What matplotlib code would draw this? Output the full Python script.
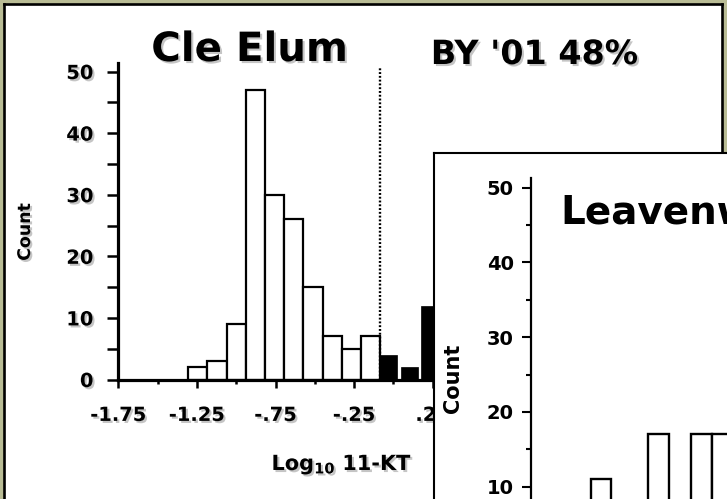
import numpy as np
import matplotlib
matplotlib.use("Agg")
import matplotlib.pyplot as plt
import matplotlib.patheffects as pe

# ---------------- data ----------------
# Cle Elum histogram (Log10 11-KT bins)
ce_bin_start = -1.305
ce_bin_width = 0.122
ce_white_counts = [2, 3, 9, 47, 30, 26, 15, 7, 5, 7]
ce_black_left = [-0.085, 0.046, 0.174]
ce_black_counts = [4, 2, 12]
ce_threshold = -0.085
ce_xticks = [-1.75, -1.25, -0.75, -0.25, 0.25, 0.75]
ce_xticklabels = ["-1.75", "-1.25", "-.75", "-.25", ".25", ".75"]
ce_xminor = [-1.5, -1.0, -0.5, 0.0, 0.5, 1.0]
yticks = [0, 10, 20, 30, 40, 50]
yminor = [5, 15, 25, 35, 45]

# Leavenworth histogram (visible part)
lv_left = [-1.393, -1.051, -0.795, -0.673]
lv_counts = [11, 17, 17, 17]
lv_width = 0.12

W, H = 727, 499
plt.rcParams['font.family'] = ['DejaVu Sans']
plt.rcParams['font.weight'] = 'bold'
plt.rcParams['mathtext.default'] = 'bf'

fig = plt.figure(figsize=(W / 100, H / 100), dpi=100, facecolor='#b9bc95')


def rect(l, t, r, b):
    return [l / W, 1 - b / H, (r - l) / W, (b - t) / H]


shadow = [pe.SimplePatchShadow(offset=(1.5, -1.5), shadow_rgbFace='0.5', alpha=0.45), pe.Normal()]

# ---- panel 1 frame ----
f1 = fig.add_axes(rect(4.3, 4.2, 722, 540))
f1.set_facecolor('white')
f1.set_xticks([]); f1.set_yticks([])
for s in f1.spines.values():
    s.set_linewidth(1.9); s.set_color('black')
f1.set_zorder(0)

# ---- panel 1 axes ----
px_per_unit = 157.2
x0_px, y0_px = 118.3, 379.5
ylim_top = 51.3
ppc1 = 6.16
xlim = (-1.75, 1.25)
ax1 = fig.add_axes(rect(x0_px, y0_px - ylim_top * ppc1,
                        x0_px + (xlim[1] - xlim[0]) * px_per_unit, y0_px))
ax1.set_zorder(1)
ax1.patch.set_alpha(0)
ax1.set_xlim(*xlim)
ax1.set_ylim(0, ylim_top)

ce_left = ce_bin_start + ce_bin_width * np.arange(len(ce_white_counts))
ax1.bar(ce_left, ce_white_counts, width=ce_bin_width, align='edge',
        facecolor='white', edgecolor='black', linewidth=1.6, zorder=2)
ax1.bar(ce_black_left, ce_black_counts, width=0.111, align='edge',
        facecolor='black', edgecolor='black', linewidth=0.5, zorder=2)
ax1.plot([ce_threshold, ce_threshold], [0, 50.5], color='black',
         linestyle=(0, (0.8, 0.8)), linewidth=1.7, zorder=3, clip_on=False)

for side in ['top', 'right']:
    ax1.spines[side].set_visible(False)
for side in ['left', 'bottom']:
    ax1.spines[side].set_linewidth(2.3)
ax1.set_yticks(yticks)
ax1.set_yticks(yminor, minor=True)
ax1.set_xticks(ce_xticks)
ax1.set_xticklabels(ce_xticklabels)
ax1.set_xticks(ce_xminor, minor=True)
ax1.tick_params(axis='y', which='both', direction='out', length=8, width=1.8,
                labelsize=14, pad=10)
ax1.tick_params(axis='x', which='major', direction='out', length=6, width=1.8,
                labelsize=14, pad=13)
ax1.tick_params(axis='x', which='minor', direction='out', length=3, width=1.8)
for lbl in ax1.get_xticklabels() + ax1.get_yticklabels():
    lbl.set_fontweight('bold')
    lbl.set_path_effects(shadow)

# ---- panel 2 frame ----
f2 = fig.add_axes(rect(433.8, 153, 800, 560))
f2.set_facecolor('white')
f2.set_xticks([]); f2.set_yticks([])
for s in f2.spines.values():
    s.set_linewidth(1.5); s.set_color('black')
f2.set_zorder(2)

# ---- panel 2 axes ----
x2_px, y2_px = 531, 561.4
ppc2 = 7.475
ppu2 = 168.0
ax2 = fig.add_axes(rect(x2_px, y2_px - ylim_top * ppc2, 790, y2_px))
ax2.set_zorder(3)
ax2.patch.set_alpha(0)
ax2.set_xlim(-1.75, -1.75 + (790 - x2_px) / ppu2)
ax2.set_ylim(0, ylim_top)
ax2.bar(lv_left, lv_counts, width=lv_width, align='edge',
        facecolor='white', edgecolor='black', linewidth=1.7)
for side in ['top', 'right', 'bottom']:
    ax2.spines[side].set_visible(False)
ax2.spines['left'].set_linewidth(1.6)
ax2.set_xticks([])
ax2.set_yticks(yticks)
ax2.set_yticks(yminor, minor=True)
ax2.tick_params(axis='y', which='major', direction='out', length=6.5, width=1.5,
                labelsize=14, pad=6)
ax2.tick_params(axis='y', which='minor', direction='out', length=3.5, width=1.5)
for lbl in ax2.get_yticklabels():
    lbl.set_fontweight('bold')

# ---- texts ----
def ftext(x, y, s, **kw):
    return fig.text(x / W, 1 - y / H, s, **kw)

ftext(249.5, 61, "Cle Elum", fontsize=29, fontweight='bold', ha='center',
      va='baseline', path_effects=shadow, zorder=1.5)
ftext(534.5, 64, "BY '01 48%", fontsize=24, fontweight='bold', ha='center',
      va='baseline', path_effects=shadow, zorder=1.5)
ftext(25, 232, "Count", fontsize=12.5, fontweight='bold', rotation=90,
      ha='center', va='center', path_effects=shadow, zorder=1.5)
ftext(342, 470, "Log$_{10}$ 11-KT", fontsize=15, fontweight='bold', ha='center',
      va='baseline', path_effects=shadow, zorder=1.5)

ftext(560, 223, "Leavenworth", fontsize=28, fontweight='bold', ha='left',
      va='baseline', zorder=5)
ftext(453, 378, "Count", fontsize=15, fontweight='bold', rotation=90,
      ha='center', va='center', zorder=5)

fig.savefig("out.png", dpi=100, facecolor=fig.get_facecolor())
